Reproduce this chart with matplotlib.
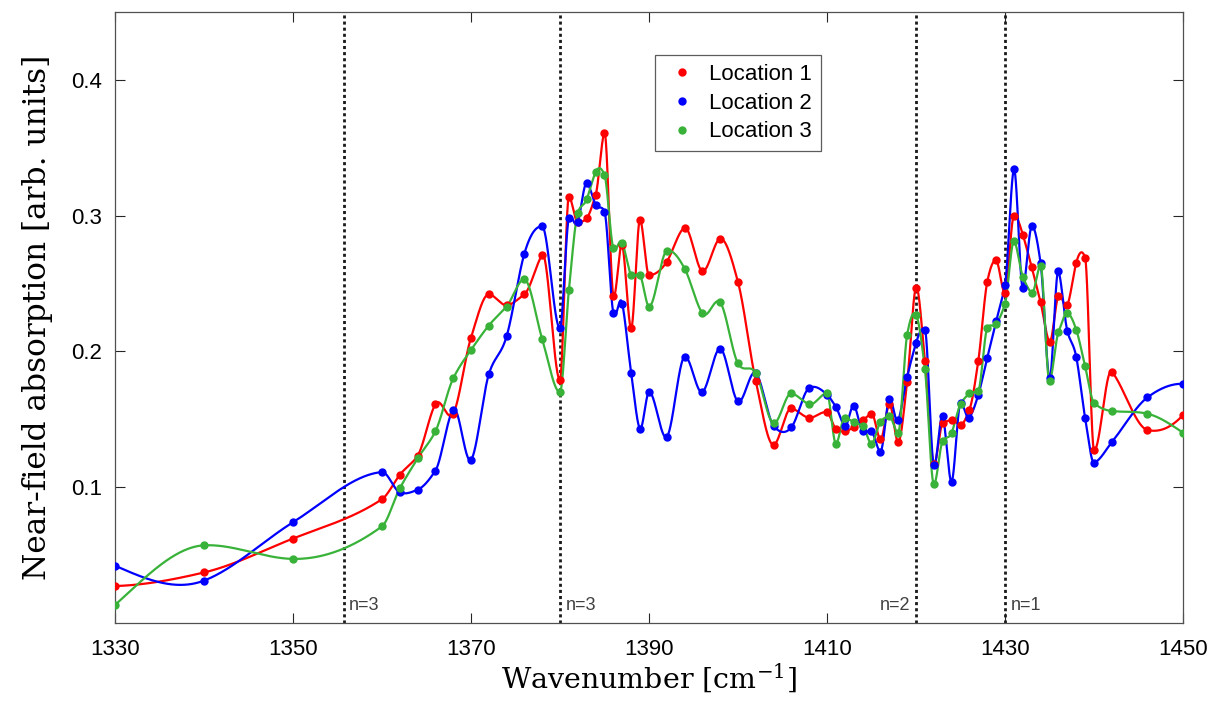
import numpy as np
import matplotlib
matplotlib.use("Agg")
import matplotlib.pyplot as plt

plt.rcParams['font.family'] = ['Liberation Sans', 'DejaVu Sans']
plt.rcParams['mathtext.default'] = 'regular'

wavenumber = [1330, 1340, 1350, 1360, 1362, 1364, 1366, 1368, 1370, 1372, 1374, 1376, 1378, 1380,
              1381, 1382, 1383, 1384, 1385, 1386, 1387, 1388, 1389, 1390,
              1392, 1394, 1396, 1398, 1400, 1402, 1404, 1406, 1408, 1410,
              1411, 1412, 1413, 1414, 1415, 1416, 1417, 1418, 1419, 1420,
              1421, 1422, 1423, 1424, 1425, 1426, 1427, 1428, 1429, 1430,
              1431, 1432, 1433, 1434, 1435, 1436, 1437, 1438, 1439, 1440,
              1442, 1446, 1450]

location1 = [0.027, 0.037, 0.062, 0.091, 0.109, 0.123, 0.161, 0.154, 0.210, 0.242, 0.234, 0.242, 0.271, 0.179,
             0.314, 0.295, 0.298, 0.315, 0.361, 0.241, 0.278, 0.217, 0.297, 0.256,
             0.266, 0.291, 0.259, 0.283, 0.251, 0.178, 0.131, 0.158, 0.151, 0.155,
             0.143, 0.141, 0.144, 0.149, 0.154, 0.135, 0.161, 0.133, 0.177, 0.247,
             0.193, 0.117, 0.147, 0.149, 0.146, 0.157, 0.193, 0.251, 0.267, 0.243,
             0.300, 0.286, 0.262, 0.236, 0.207, 0.241, 0.234, 0.265, 0.269, 0.127,
             0.185, 0.142, 0.153]

location2 = [0.042, 0.031, 0.074, 0.111, 0.096, 0.098, 0.112, 0.157, 0.120, 0.183, 0.211, 0.272, 0.292, 0.217,
             0.298, 0.295, 0.324, 0.308, 0.303, 0.228, 0.235, 0.184, 0.143, 0.170,
             0.137, 0.196, 0.170, 0.202, 0.163, 0.184, 0.145, 0.144, 0.173, 0.168,
             0.159, 0.145, 0.160, 0.141, 0.141, 0.126, 0.165, 0.149, 0.181, 0.206,
             0.216, 0.116, 0.152, 0.104, 0.162, 0.151, 0.168, 0.195, 0.222, 0.249,
             0.334, 0.247, 0.292, 0.265, 0.180, 0.259, 0.215, 0.196, 0.151, 0.118,
             0.133, 0.166, 0.176]

location3 = [0.013, 0.057, 0.047, 0.071, 0.099, 0.121, 0.141, 0.180, 0.201, 0.219, 0.233, 0.253, 0.209, 0.170,
             0.245, 0.302, 0.312, 0.332, 0.330, 0.276, 0.280, 0.256, 0.256, 0.233,
             0.274, 0.261, 0.228, 0.236, 0.191, 0.184, 0.147, 0.169, 0.161, 0.169,
             0.132, 0.151, 0.148, 0.145, 0.132, 0.148, 0.152, 0.140, 0.212, 0.227,
             0.187, 0.102, 0.134, 0.140, 0.161, 0.169, 0.171, 0.217, 0.220, 0.235,
             0.281, 0.255, 0.243, 0.263, 0.178, 0.214, 0.228, 0.216, 0.189, 0.162,
             0.156, 0.154, 0.140]

series_labels = ['Location 1', 'Location 2', 'Location 3']
series_colors = ['#ff0000', '#0000ff', '#38b238']

marker_lines = [1355.7, 1380, 1420, 1430]
marker_texts = ['n=3', 'n=3', 'n=2', 'n=1']
marker_sides = ['right', 'right', 'left', 'right']

xticks = [1330, 1350, 1370, 1390, 1410, 1430, 1450]
yticks = [0.1, 0.2, 0.3, 0.4]


def makima(x, y, xs):
    x = np.asarray(x, float)
    y = np.asarray(y, float)
    n = len(x)
    h = np.diff(x)
    d = np.diff(y) / h
    dm1 = 2 * d[0] - d[1]
    dm2 = 2 * dm1 - d[0]
    dp1 = 2 * d[-1] - d[-2]
    dp2 = 2 * dp1 - d[-1]
    D = np.concatenate([[dm2, dm1], d, [dp1, dp2]])
    slopes = np.zeros(n)
    for i in range(n):
        k = i + 2
        w1 = abs(D[k + 1] - D[k]) + abs(D[k + 1] + D[k]) / 2
        w2 = abs(D[k - 1] - D[k - 2]) + abs(D[k - 1] + D[k - 2]) / 2
        if w1 + w2 == 0:
            slopes[i] = 0.0
        else:
            slopes[i] = (w1 * D[k - 1] + w2 * D[k]) / (w1 + w2)
    idx = np.clip(np.searchsorted(x, xs) - 1, 0, n - 2)
    hh = h[idx]
    t = (xs - x[idx]) / hh
    h00 = 2 * t ** 3 - 3 * t ** 2 + 1
    h10 = t ** 3 - 2 * t ** 2 + t
    h01 = -2 * t ** 3 + 3 * t ** 2
    h11 = t ** 3 - t ** 2
    return (h00 * y[idx] + h10 * hh * slopes[idx] + h01 * y[idx + 1] + h11 * hh * slopes[idx + 1])


fig = plt.figure(figsize=(12.09, 7.08), dpi=100)
ax = fig.add_axes([0.0951, 0.1205, 0.8834, 0.8625])

xs = np.linspace(wavenumber[0], wavenumber[-1], 6000)
for vals, lab, col in zip([location1, location2, location3], series_labels, series_colors):
    ax.plot(xs, makima(wavenumber, vals, xs), color=col, lw=1.6, zorder=3)
    ax.plot(wavenumber, vals, 'o', color=col, ms=5, label=lab, zorder=4)

for xv, txt, side in zip(marker_lines, marker_texts, marker_sides):
    ax.axvline(xv, color='#1a1a1a', ls=(0, (1.1, 1.1)), lw=2.0, zorder=2)
    if side == 'right':
        ax.text(xv + 0.6, 0.013, txt, ha='left', va='center', fontsize=13, color='#404040')
    else:
        ax.text(xv - 0.6, 0.013, txt, ha='right', va='center', fontsize=13, color='#404040')

ax.set_xlim(1330, 1450)
ax.set_ylim(0, 0.45)
ax.set_xticks(xticks)
ax.set_yticks(yticks)
ax.set_xticklabels([str(t) for t in xticks])
ax.set_yticklabels([f'{t:.1f}' for t in yticks])
ax.tick_params(direction='in', length=7, width=0.8, top=True, right=True,
               labelsize=16, colors='#262626', labelcolor='black')
ax.tick_params(axis='x', pad=12)
ax.tick_params(axis='y', pad=9)
for s in ax.spines.values():
    s.set_color('#505050')
    s.set_linewidth(0.9)

ax.set_xlabel('Wavenumber [cm$^{-1}$]', family=['DejaVu Serif'], fontsize=20.5, labelpad=1)
ax.set_ylabel('Near-field absorption [arb. units]', family=['DejaVu Serif'], fontsize=22.5, labelpad=13)

leg = ax.legend(loc='upper left', bbox_to_anchor=(0.5056, 0.9296), fontsize=16, frameon=True,
                fancybox=False, edgecolor='#333333', handletextpad=0.42, borderpad=0.4,
                labelspacing=0.35, markerscale=1.0, handlelength=1.6, borderaxespad=0.0)
leg.get_frame().set_linewidth(0.9)

fig.savefig('out.png', dpi=100)
